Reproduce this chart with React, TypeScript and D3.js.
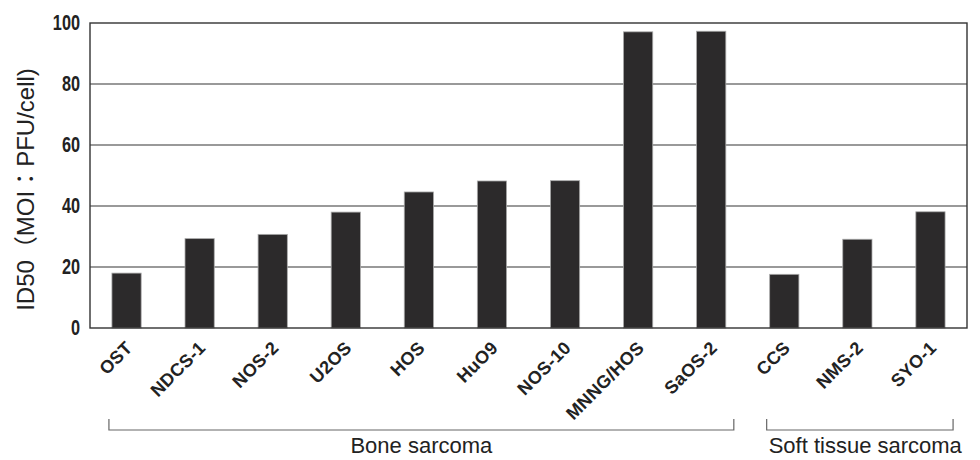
import React from "react";
import * as d3 from "d3";

const categories = ["OST", "NDCS-1", "NOS-2", "U2OS", "HOS", "HuO9", "NOS-10", "MNNG/HOS", "SaOS-2", "CCS", "NMS-2", "SYO-1"];
const values = [18, 29.3, 30.7, 38, 44.6, 48.2, 48.3, 97.1, 97.3, 17.6, 29.1, 38.1];
const yTicks = [0, 20, 40, 60, 80, 100];
const groups = [
  { label: "Bone sarcoma", from: "OST", to: "SaOS-2", anchor: "middle" },
  { label: "Soft tissue sarcoma", from: "CCS", to: "SYO-1", anchor: "start" },
];
const yTitle = "ID50（MOI：PFU/cell)";

const W = 980, H = 460;
const m = { left: 90, right: 13, top: 23, bottom: 132 };

export default function App() {
  const x = d3.scaleBand<string>().domain(categories).range([m.left, W - m.right]).paddingInner(0.6).paddingOuter(0.3);
  const y = d3.scaleLinear().domain([0, 100]).range([H - m.bottom, m.top]);
  const bw = x.bandwidth();
  const sans = "Arial, 'Liberation Sans', 'Noto Sans CJK JP', sans-serif";
  return (
    <svg width={W} height={H} style={{ position: "absolute", left: 0, top: 0, background: "#fff" }}>
      {yTicks.filter(t => t > 0 && t < 100).map(t => (
        <line key={t} x1={m.left} x2={W - m.right} y1={y(t)} y2={y(t)} stroke="#777" strokeWidth={1.4} />
      ))}
      {categories.map((c, i) => (
        <rect key={c} x={x(c)} y={y(values[i])} width={bw} height={y(0) - y(values[i])} fill="#2c2a2b" stroke="#aaa" strokeWidth={0.8} />
      ))}
      <rect x={m.left} y={m.top} width={W - m.right - m.left} height={y(0) - m.top} fill="none" stroke="#333" strokeWidth={1.4} />
      {yTicks.map(t => (
        <text key={t} transform={`translate(${m.left - 10}, ${y(t)}) scale(0.74,1)`} dy="0.3em" textAnchor="end"
          fontFamily={sans} fontWeight="bold" fontSize={22} fill="#222">{t}</text>
      ))}
      <text transform={`translate(25, ${(m.top + y(0)) / 2 + 14}) rotate(-90)`} textAnchor="middle" dominantBaseline="central"
        fontFamily={sans} fontSize={24} fill="#222">{yTitle}</text>
      {categories.map(c => {
        const cx = (x(c) as number) + bw / 2;
        return (
          <text key={c} transform={`translate(${cx + 7}, ${y(0) + 21}) rotate(-45)`} textAnchor="end"
            fontFamily={sans} fontWeight="bold" fontSize={18} letterSpacing={0.3} fill="#222">{c}</text>
        );
      })}
      {groups.map(g => {
        const x1 = (x(g.from) as number) - 3;
        const x2 = (x(g.to) as number) + bw + 8;
        const by = 430;
        const tx = g.anchor === "middle" ? (x1 + x2) / 2 : x1 + 2;
        return (
          <g key={g.label}>
            <path d={`M${x1},${by - 11}V${by}H${x2}V${by - 11}`} fill="none" stroke="#666" strokeWidth={1.2} />
            <text x={tx} y={453} textAnchor={g.anchor as any} fontFamily={sans} fontSize={22} fill="#222">{g.label}</text>
          </g>
        );
      })}
    </svg>
  );
}
